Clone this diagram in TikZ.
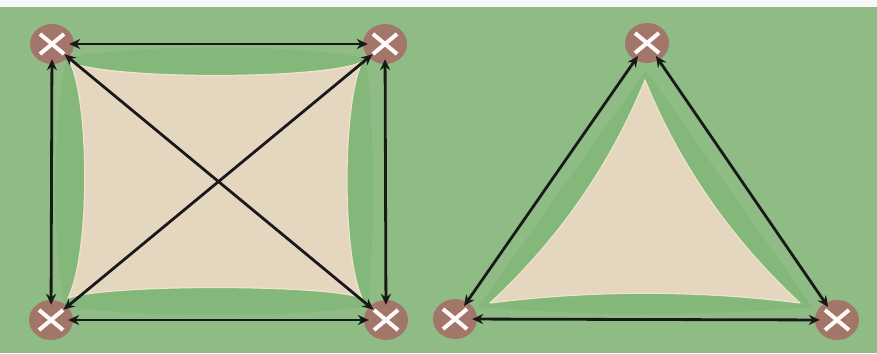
\documentclass[tikz,border=0pt]{standalone}
\usepackage{tikz}
\usetikzlibrary{arrows.meta,shapes.geometric}
\definecolor{lawn}{HTML}{8FBC85}
\definecolor{lawndark}{HTML}{84B87A}
\definecolor{canvas}{HTML}{E5D7BF}
\definecolor{canvasrim}{HTML}{EDE4CA}
\definecolor{postbrown}{HTML}{A3766A}

\begin{document}
\begin{tikzpicture}[
  x=1pt, y=-1pt,
  post/.style={ellipse, fill=postbrown, minimum width=44pt, minimum height=40pt, inner sep=0pt},
  tie/.style={{Stealth[length=11pt,width=10pt]}-{Stealth[length=11pt,width=10pt]}, line width=2.8pt, black!90,
    shorten <=-5pt, shorten >=-5pt},
  cross/.style={white!90!pink, line width=4pt},
  shade/.style={fill=lawndark},
  sail/.style={fill=canvas, draw=canvasrim, line width=1.2pt, line join=round}
]
\useasboundingbox (0,0) rectangle (877,353);
\fill[white!97!black] (0,0) rectangle (877,7);
\fill[lawn] (0,7) rectangle (877,353);

% shadow under the sails
\fill[shade] (66,58) .. controls (140,44) and (292,44) .. (366,58)
  .. controls (375,140) and (375,224) .. (368,306)
  .. controls (290,318) and (140,318) .. (64,306)
  .. controls (52,224) and (52,140) .. cycle;
\fill[shade] (646,70) -- (812,307) .. controls (700,316) and (590,316) .. (478,307) -- cycle;

% square sail
\path[sail] (70,62) .. controls (108,80) and (324,80) .. (362,62)
  .. controls (342,106) and (342,254) .. (362,298)
  .. controls (324,284) and (108,284) .. (68,298)
  .. controls (90,254) and (90,106) .. cycle;

% triangle sail
\path[sail] (645,80) .. controls (680,166) and (732,240) .. (800,303)
  .. controls (697,290) and (593,290) .. (490,303)
  .. controls (558,240) and (610,166) .. cycle;

% posts
\node[post] (sqtl) at (52,44) {};
\node[post] (sqtr) at (385,44) {};
\node[post] (sqbl) at (51,320) {};
\node[post] (sqbr) at (386,320) {};
\node[post] (trtop) at (647,43) {};
\node[post] (trbl) at (455,319) {};
\node[post] (trbr) at (837,320) {};

% tensioning lines
\draw[tie] (sqtl) -- (sqtr);
\draw[tie] (sqtr) -- (sqbr);
\draw[tie] (sqbl) -- (sqbr);
\draw[tie] (sqtl) -- (sqbl);
\draw[tie] (sqtl) -- (sqbr);
\draw[tie] (sqtr) -- (sqbl);
\draw[tie] (trtop) -- (trbl);
\draw[tie] (trtop) -- (trbr);
\draw[tie] (trbl) -- (trbr);

\foreach \p in {sqtl,sqtr,sqbl,sqbr,trtop,trbl,trbr}
  \draw[cross] (\p.center) +(-12,-10) -- +(12,10) (\p.center) +(-12,10) -- +(12,-10);
\end{tikzpicture}
\end{document}
